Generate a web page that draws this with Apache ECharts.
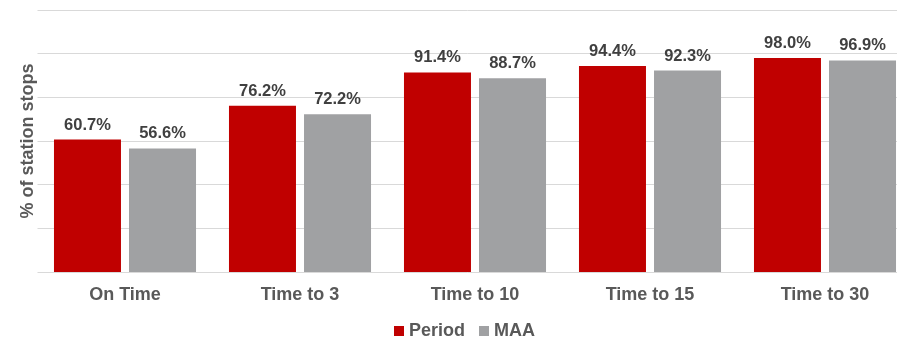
<!DOCTYPE html>
<html><head><meta charset="utf-8">
<script src="https://cdn.jsdelivr.net/npm/echarts@6/dist/echarts.min.js"></script>
<style>html,body{margin:0;padding:0;background:#fff}#c{width:897px;height:338px}</style>
</head><body><div id="c"></div>
<script>
const categories = ['On Time', 'Time to 3', 'Time to 10', 'Time to 15', 'Time to 30'];
const periodValues = [60.7, 76.2, 91.4, 94.4, 98.0];
const maaValues = [56.6, 72.2, 88.7, 92.3, 96.9];
const seriesNames = ['Period', 'MAA'];
const yAxisName = '% of station stops';

const font = 'Liberation Sans, Arial, sans-serif';
const chart = echarts.init(document.getElementById('c'), null, {renderer: 'canvas'});
const labelCfg = {
  show: true, position: 'top', distance: 6,
  formatter: p => p.value.toFixed(1) + '%',
  color: '#404040', fontWeight: 'bold', fontSize: 16.5, fontFamily: font
};
chart.setOption({
  animation: false,
  grid: {left: 37.5, width: 875, top: 10, bottom: 66, containLabel: false, outerBoundsMode: 'none'},
  legend: {
    left: 394, top: 322, padding: 0, itemWidth: 10, itemHeight: 10, itemGap: 14,
    icon: 'rect',
    textStyle: {color: '#595959', fontWeight: 'bold', fontSize: 18, fontFamily: font},
    data: seriesNames
  },
  xAxis: {
    type: 'category', data: categories,
    axisLine: {show: false}, axisTick: {show: false},
    axisLabel: {color: '#595959', fontWeight: 'bold', fontSize: 18, fontFamily: font, margin: 14}
  },
  yAxis: {
    type: 'value', min: 0, max: 120, interval: 20,
    axisLabel: {show: false}, axisLine: {show: false}, axisTick: {show: false},
    splitLine: {lineStyle: {color: '#D9D9D9', width: 1}},
    name: yAxisName, nameLocation: 'middle', nameGap: 0,
    nameTextStyle: {color: '#595959', fontWeight: 'bold', fontSize: 18, fontFamily: font}
  },
  series: [
    {name: seriesNames[0], type: 'bar', data: periodValues, barWidth: 67, barGap: '12%',
     itemStyle: {color: '#C00000'}, label: labelCfg},
    {name: seriesNames[1], type: 'bar', data: maaValues, barWidth: 67,
     itemStyle: {color: '#A0A1A3'}, label: labelCfg}
  ]
});
</script></body></html>
